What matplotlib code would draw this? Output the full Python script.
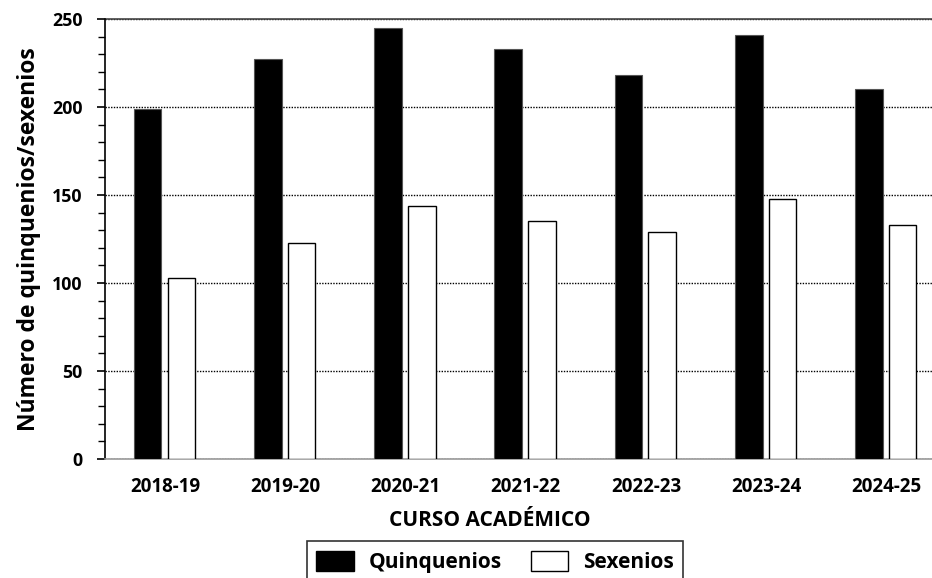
import matplotlib
matplotlib.use("Agg")
import matplotlib.pyplot as plt
import numpy as np
from matplotlib.ticker import MultipleLocator
from matplotlib.patches import Patch

cursos = ["2018-19", "2019-20", "2020-21", "2021-22", "2022-23", "2023-24", "2024-25"]
quinquenios = [199, 227, 245, 233, 218, 241, 210]
sexenios = [103, 123, 144, 135, 129, 148, 133]

plt.rcParams['font.family'] = ['Open Sans', 'DejaVu Sans']
plt.rcParams['font.weight'] = 'bold'

fig = plt.figure(figsize=(9.32, 5.78), dpi=100)
ax = fig.add_axes([105/932, 119/578, 1 - 105/932, 440/578])

x = np.arange(len(cursos))
w = 0.23
ax.bar(x - 0.145, quinquenios, w, color='black', edgecolor='#555555', linewidth=0.8, zorder=3, label='Quinquenios')
ax.bar(x + 0.135, sexenios, w, color='white', edgecolor='black', linewidth=1.0, zorder=3, label='Sexenios')

ax.set_xlim(-0.5, 6.38)
ax.set_ylim(0, 250)
ax.yaxis.set_major_locator(MultipleLocator(50))
ax.yaxis.set_minor_locator(MultipleLocator(10))
ax.grid(axis='y', which='major', linestyle=(0, (1, 1)), color='black', linewidth=1.0, zorder=1)
ax.axhline(250, color='#444444', linewidth=1.2, zorder=2, clip_on=False)

ax.spines['right'].set_visible(False)
ax.spines['top'].set_visible(False)
ax.spines['left'].set_color('black')
ax.spines['left'].set_linewidth(1.2)
ax.spines['bottom'].set_color('#999999')
ax.spines['bottom'].set_linewidth(1.2)

ax.set_xticks(x)
ax.set_xticklabels(cursos, fontsize=13.5, fontweight='bold')
ax.tick_params(axis='x', length=0, pad=13)
ax.tick_params(axis='y', which='major', direction='out', length=6, width=1.2, labelsize=12.8, pad=10)
ax.tick_params(axis='y', which='minor', direction='out', length=5, width=1.0)
for lab in ax.get_yticklabels():
    lab.set_fontweight('bold')

ax.set_xlabel('CURSO ACADÉMICO', fontsize=15, fontweight='bold')
ax.xaxis.set_label_coords((490 - 105) / 827, -(521 - 459) / 440, transform=ax.transAxes)
ax.xaxis.label.set_va('center')
ax.set_ylabel('Número de quinquenios/sexenios', fontsize=16.5, fontweight='bold', labelpad=8)

handles = [Patch(facecolor='black', edgecolor='black', label='Quinquenios'),
           Patch(facecolor='white', edgecolor='black', label='Sexenios')]
leg = fig.legend(handles=handles, loc='lower center', bbox_to_anchor=(495/932, -0.025), ncol=2,
                 frameon=True, fancybox=False, edgecolor='black', fontsize=15,
                 handlelength=1.8, handleheight=1.1, columnspacing=1.4, borderpad=0.45,
                 handletextpad=0.7)
leg.get_frame().set_linewidth(1.2)
for t in leg.get_texts():
    t.set_fontweight('bold')

fig.savefig('out.png', dpi=100)
